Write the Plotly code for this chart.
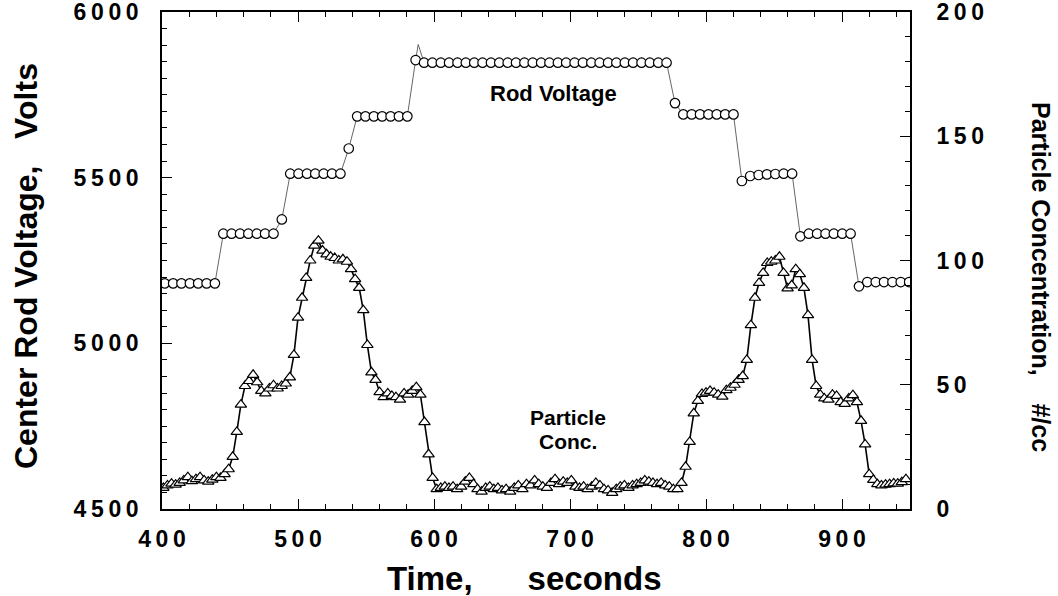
import plotly.graph_objects as go

# ---------------- data ----------------
rod_time = [402.0, 408.2, 414.3, 420.5, 426.6, 432.8, 438.9, 445.1, 451.2, 457.4,
            463.5, 469.7, 475.8, 482.0, 488.1, 494.3, 500.4, 506.6, 512.7, 518.9,
            525.0, 531.2, 537.3, 543.5, 549.6, 555.8, 561.9, 568.1, 574.2, 580.4,
            586.5, 592.7, 598.8, 605.0, 611.1, 617.3, 623.4, 629.6, 635.7, 641.9,
            648.0, 654.2, 660.3, 666.5, 672.6, 678.8, 684.9, 691.1, 697.2, 703.4,
            709.5, 715.7, 721.8, 728.0, 734.1, 740.3, 746.4, 752.6, 758.7, 764.9,
            771.0, 777.2, 783.3, 789.5, 795.6, 801.8, 807.9, 814.1, 820.2, 826.4,
            832.5, 838.7, 844.8, 851.0, 857.1, 863.3, 869.4, 875.6, 881.7, 887.9,
            894.0, 900.2, 906.3, 912.5, 918.6, 924.8, 930.9, 937.1, 943.2, 949.4]
rod_volts = [5181, 5181, 5181, 5181, 5181, 5181, 5181,
             5331, 5331, 5331, 5331, 5331, 5331, 5331,
             5374,
             5512, 5512, 5512, 5512, 5512, 5512, 5512,
             5588,
             5685, 5685, 5685, 5685, 5685, 5685, 5685,
             5855,
             5847, 5847, 5847, 5847, 5847, 5847, 5847, 5847, 5847, 5847,
             5847, 5847, 5847, 5847, 5847, 5847, 5847, 5847, 5847, 5847,
             5847, 5847, 5847, 5847, 5847, 5847, 5847, 5847, 5847, 5847,
             5725,
             5691, 5691, 5691, 5691, 5691, 5691, 5691,
             5490,
             5505, 5508, 5510, 5511, 5512, 5512,
             5323,
             5331, 5331, 5331, 5331, 5331, 5331,
             5172,
             5185, 5185, 5185, 5185, 5185, 5185]
spike_time = [588.4]
spike_volts = [5902]

particle_time = [401, 404, 407, 410, 413, 416, 419, 422, 425, 428, 431, 434, 437, 440,
                 443, 446, 449, 452, 455, 458, 461, 464, 467, 470, 473, 476, 479, 482,
                 485, 488, 491, 494, 497, 500, 503, 506, 509, 512, 515, 518, 521, 524,
                 527, 530, 533, 536, 539, 542, 545, 548, 551, 554, 557, 560, 563, 566,
                 569, 572, 575, 578, 581, 584, 587, 590, 593, 596, 599, 602, 605, 608,
                 611, 614, 617, 620, 623, 626, 629, 632, 635, 638, 641, 644, 647, 650,
                 653, 656, 659, 662, 665, 668, 671, 674, 677, 680, 683, 686, 689, 692,
                 695, 698, 701, 704, 707, 710, 713, 716, 719, 722, 725, 728, 731, 734,
                 737, 740, 743, 746, 749, 752, 755, 758, 761, 764, 767, 770, 773, 776,
                 779, 782, 785, 788, 791, 794, 797, 800, 803, 806, 809, 812, 815, 818,
                 821, 824, 827, 830, 833, 836, 839, 842, 845, 848, 851, 854, 857, 860,
                 863, 866, 869, 872, 875, 878, 881, 884, 887, 890, 893, 896, 899, 902,
                 905, 908, 911, 914, 917, 920, 923, 926, 929, 932, 935, 938, 941, 944,
                 947]
particle_conc = [8.5, 9.5, 10.2, 9.8, 10.5, 11.5, 12.8, 11.2, 12.0, 12.8, 11.5, 11.0, 11.8, 12.8,
                 12.5, 14.0, 16.0, 21.0, 31.0, 42.0, 49.5, 51.5, 54.0, 51.0, 47.5, 46.5, 48.5, 49.8,
                 48.5, 49.5, 50.5, 53.0, 62.0, 77.0, 85.0, 93.0, 100.0, 106.0, 108.0, 104.0, 102.5, 101.5,
                 101.0, 100.0, 100.5, 99.5, 96.5, 92.5, 89.0, 80.0, 66.0, 55.0, 52.0, 47.0, 45.0, 46.5,
                 45.5, 45.0, 44.0, 46.5, 46.0, 47.5, 49.0, 46.0, 35.0, 22.0, 12.5, 8.0, 8.5, 9.0,
                 8.5, 9.0, 8.0, 9.0, 11.0, 12.5, 10.0, 8.0, 7.0, 8.5, 9.0, 8.0, 8.5, 7.5,
                 8.0, 7.0, 8.5, 9.5, 8.0, 10.0, 9.5, 11.5, 10.0, 9.0, 8.5, 10.5, 12.0, 10.0,
                 11.0, 10.5, 11.5, 9.0, 8.5, 9.0, 8.0, 9.0, 10.5, 9.5, 8.0, 7.5, 6.5, 8.0,
                 9.0, 9.5, 8.5, 9.5, 10.0, 10.5, 11.5, 11.0, 10.5, 10.0, 10.5, 9.5, 9.0, 8.0,
                 8.0, 10.5, 17.0, 27.0, 38.5, 43.5, 46.3, 46.8, 47.5, 46.8, 46.0, 45.2, 47.8, 48.8,
                 50.0, 52.0, 53.5, 60.0, 74.0, 85.0, 91.0, 95.0, 99.0, 99.5, 100.0, 101.5, 95.0, 88.8,
                 90.0, 96.5, 94.5, 89.0, 78.0, 60.0, 49.5, 46.0, 44.5, 44.0, 46.0, 45.5, 43.0, 42.3,
                 44.5, 45.8, 43.0, 35.5, 26.0, 14.0, 11.7, 10.0, 9.5, 9.8, 10.0, 10.3, 10.2, 10.8,
                 12.0]

TS = "\u2009"  # thin space between the spaced-out digits of the tick labels
x_ticks = [400, 500, 600, 700, 800, 900]
x_ticklabels = [TS.join(s) for s in ["400", "500", "600", "700", "800", "900"]]
y_ticks = [4500, 5000, 5500, 6000]
y_ticklabels = [TS.join(s) for s in ["4500", "5000", "5500", "6000"]]
y2_ticks = [0, 50, 100, 150, 200]
y2_ticklabels = [TS.join(s) for s in ["0", "50", "100", "150", "200"]]

# ---------------- figure ----------------
W, H = 1058, 596
ML, MR, MT, MB = 162, 148, 12, 87
PW, PH = W - ML - MR, H - MT - MB
FONT = "Liberation Sans, Arial, Helvetica, sans-serif"


def px_x(p):
    return (p - ML) / PW


def px_y(p):
    return (H - MB - p) / PH


line_pts = sorted(zip(rod_time + spike_time, rod_volts + spike_volts))
fig = go.Figure()
fig.add_trace(go.Scatter(
    x=[p[0] for p in line_pts], y=[p[1] for p in line_pts], mode="lines",
    line=dict(color="#555555", width=0.9), hoverinfo="skip", showlegend=False))
fig.add_trace(go.Scatter(
    x=rod_time, y=rod_volts, mode="markers",
    marker=dict(symbol="circle", size=9.5, color="white",
                line=dict(color="black", width=1.2)),
    showlegend=False, name="Rod Voltage"))
fig.add_trace(go.Scatter(
    x=particle_time, y=particle_conc, mode="lines+markers", yaxis="y2",
    line=dict(color="black", width=1.6),
    marker=dict(symbol="triangle-up", size=10, color="white",
                line=dict(color="black", width=1.2)),
    showlegend=False, name="Particle Conc."))

tickfont = dict(family=FONT, size=23, color="black", weight="bold")
common = dict(ticks="inside", ticklen=10, tickwidth=1.2, tickcolor="black",
              showline=True, linecolor="black", linewidth=1.6,
              showgrid=False, zeroline=False, tickfont=tickfont, automargin=False,
              ticklabeloverflow="allow")

fig.update_layout(
    width=W, height=H, margin=dict(l=ML, r=MR, t=MT, b=MB, autoexpand=False),
    paper_bgcolor="white", plot_bgcolor="white",
    xaxis=dict(range=[400, 950], tickvals=x_ticks, ticktext=x_ticklabels,
               minor=dict(dtick=20, tick0=400, ticks="inside", ticklen=5,
                          tickwidth=1, tickcolor="black"),
               mirror="ticks", ticklabelstandoff=9, **common),
    yaxis=dict(range=[4500, 6000], tickvals=y_ticks, ticktext=y_ticklabels,
               minor=dict(dtick=50, tick0=4500, ticks="inside", ticklen=5,
                          tickwidth=1, tickcolor="black"),
               ticklabelstandoff=17, **common),
    yaxis2=dict(range=[0, 200], tickvals=y2_ticks, ticktext=y2_ticklabels,
                overlaying="y", side="right",
                minor=dict(dtick=10, tick0=0, ticks="inside", ticklen=5,
                           tickwidth=1, tickcolor="black"),
                ticklabelstandoff=20, **common),
)

NB = "\u00a0"
ann = []
ann.append(dict(text="Time," + NB * 6 + "seconds", x=px_x(524), y=px_y(578),
                xref="paper", yref="paper", showarrow=False, xanchor="center", yanchor="middle",
                font=dict(family=FONT, size=33, color="black", weight="bold")))
ann.append(dict(text="Center Rod Voltage," + NB * 3 + "Volts", x=px_x(26), y=px_y(266),
                xref="paper", yref="paper", showarrow=False, textangle=-90,
                xanchor="center", yanchor="middle",
                font=dict(family=FONT, size=32, color="black", weight="bold")))
ann.append(dict(text="Particle Concentration," + NB * 4 + "#/cc", x=px_x(1041), y=px_y(277),
                xref="paper", yref="paper", showarrow=False, textangle=90,
                xanchor="center", yanchor="middle",
                font=dict(family=FONT, size=25, color="black", weight="bold")))
ann.append(dict(text="Rod Voltage", x=px_x(553.5), y=px_y(94),
                xref="paper", yref="paper", showarrow=False, xanchor="center", yanchor="middle",
                font=dict(family=FONT, size=22, color="black", weight="bold")))
ann.append(dict(text="Particle", x=px_x(568), y=px_y(417),
                xref="paper", yref="paper", showarrow=False, xanchor="center", yanchor="middle",
                font=dict(family=FONT, size=21, color="black", weight="bold")))
ann.append(dict(text="Conc.", x=px_x(568.4), y=px_y(441),
                xref="paper", yref="paper", showarrow=False, xanchor="center", yanchor="middle",
                font=dict(family=FONT, size=21, color="black", weight="bold")))
fig.update_layout(annotations=ann)

fig.write_html("out.html")
